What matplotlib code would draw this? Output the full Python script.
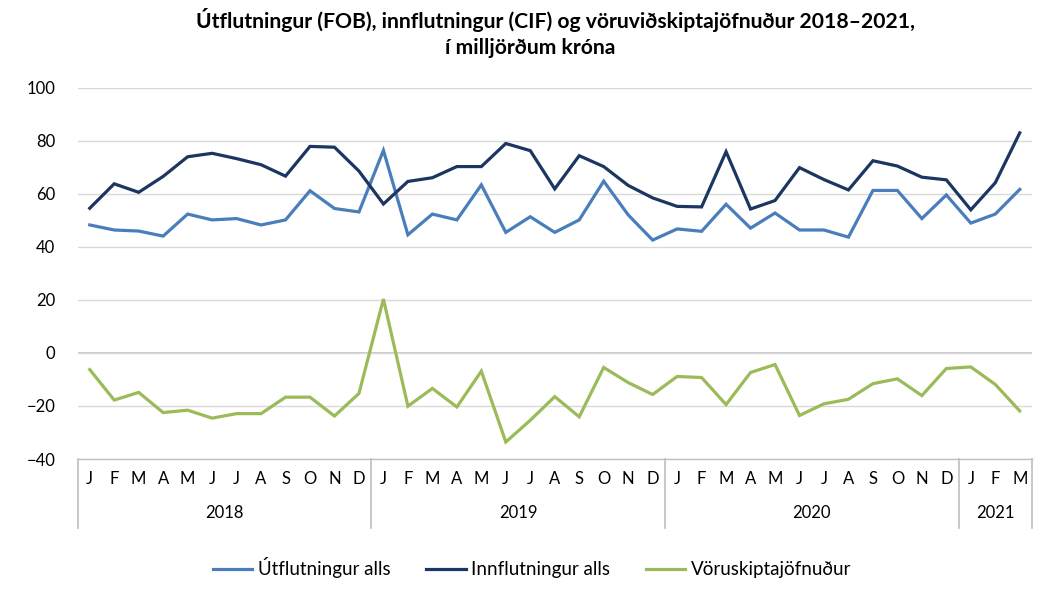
import matplotlib
matplotlib.use("Agg")
import matplotlib.pyplot as plt
import matplotlib.transforms as mtransforms
from matplotlib.lines import Line2D

plt.rcParams['font.family'] = ['Lato', 'DejaVu Sans']

month_labels = ["J", "F", "M", "A", "M", "J", "J", "A", "S", "O", "N", "D"] * 3 + ["J", "F", "M"]
years = ["2018", "2019", "2020", "2021"]
year_lengths = [12, 12, 12, 3]

exports = [48.2, 46.3, 45.9, 44.0, 52.3, 50.1, 50.6, 48.2, 50.1, 61.1, 54.4, 53.1,
           76.3, 44.5, 52.3, 50.1, 63.3, 45.4, 51.3, 45.4, 50.1, 64.7, 52.0, 42.5,
           46.7, 45.8, 56.0, 47.0, 52.7, 46.3, 46.3, 43.6, 61.2, 61.2, 50.6, 59.5,
           48.9, 52.3, 61.6]
imports = [54.5, 63.7, 60.5, 66.5, 73.9, 75.2, 73.2, 70.9, 66.6, 77.8, 77.5, 68.5,
           56.1, 64.6, 66.0, 70.2, 70.2, 78.9, 76.2, 61.8, 74.3, 70.2, 63.1, 58.4,
           55.2, 55.0, 75.8, 54.2, 57.4, 69.8, 65.3, 61.4, 72.4, 70.4, 66.2, 65.2,
           53.9, 64.1, 82.9]
balance = [-6.3, -17.8, -14.9, -22.5, -21.6, -24.6, -22.9, -22.9, -16.7, -16.7, -23.8, -15.3,
           20.3, -20.1, -13.4, -20.4, -6.9, -33.6, -25.4, -16.5, -24.1, -5.5, -11.2, -15.7,
           -8.9, -9.3, -19.5, -7.4, -4.4, -23.6, -19.2, -17.5, -11.6, -9.8, -16.1, -5.9,
           -5.3, -11.9, -21.9]
series_names = ["Útflutningur alls", "Innflutningur alls", "Vöruskiptajöfnuður"]
colors = ["#4A7EBB", "#1B3660", "#9BBB59"]

W, H = 1059, 600
fig = plt.figure(figsize=(W / 100, H / 100), dpi=100)
ax = fig.add_axes([77.5 / W, 1 - 459 / H, (1032 - 77.5) / W, (459 - 87.5) / H])

x = list(range(len(month_labels)))
for vals, name, c in zip([exports, imports, balance], series_names, colors):
    ax.plot(x, vals, color=c, lw=2.3, label=name, solid_joinstyle='miter')

ax.set_xlim(-0.5, len(x) - 0.5)
ax.set_ylim(-40, 100)
ax.set_yticks(range(-40, 101, 20))
ax.yaxis.grid(True, color="#D9D9D9", lw=1)
ax.axhline(0, color="#BFBFBF", lw=1.2, zorder=0.5)
ax.set_axisbelow(True)
for s in ["top", "right", "left"]:
    ax.spines[s].set_visible(False)
ax.spines["bottom"].set_color("#BFBFBF")
ax.spines["bottom"].set_linewidth(1)
ax.tick_params(axis="y", length=0, pad=16, labelsize=12, labelcolor="#000000")
ax.set_xticks(x)
ax.set_xticklabels(month_labels)
ax.tick_params(axis="x", length=0, pad=9, labelsize=12)

trans = mtransforms.blended_transform_factory(ax.transData, fig.transFigure)
start = -0.5
bounds = [start]
for yr, n in zip(years, year_lengths):
    center = start + n / 2
    ax.text(center, 1 - 513 / H, yr, transform=trans, ha="center", va="center", fontsize=12)
    start += n
    bounds.append(start)
for b in bounds:
    fig.add_artist(Line2D([b, b], [1 - 459 / H, 1 - 528 / H], transform=trans,
                          color="#BFBFBF", lw=1.2))

fig.text(0.525, 1 - 20 / H, "Útflutningur (FOB), innflutningur (CIF) og vöruviðskiptajöfnuður 2018–2021,",
         ha="center", va="center", fontsize=15.2, fontweight="bold")
fig.text(0.501, 1 - 48 / H, "í milljörðum króna",
         ha="center", va="center", fontsize=15.2, fontweight="bold")

fig.legend(loc="center", bbox_to_anchor=(532 / W, 1 - 568 / H), ncol=3, frameon=False,
           fontsize=13.5, handlelength=2.1, handletextpad=0.3, columnspacing=1.9)

fig.savefig("out.png", dpi=100)
